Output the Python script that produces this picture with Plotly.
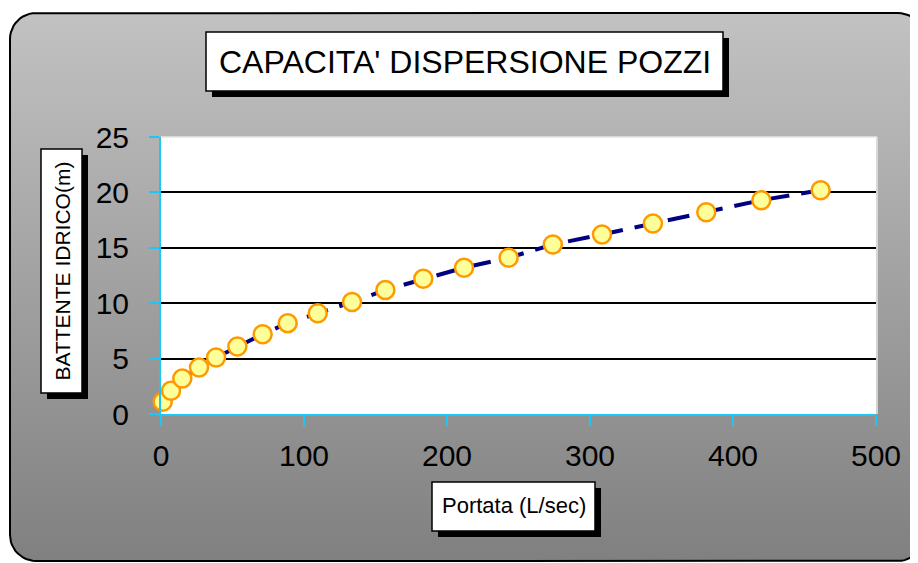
import math
import plotly.graph_objects as go

# ---- data ----
portata = [1.2, 7.0, 14.9, 26.6, 38.5, 53.4, 71.1, 88.6, 109.6, 133.6,
           156.9, 183.4, 211.9, 243.1, 274.0, 308.4, 344.0, 381.3, 419.8, 461.3]
battente = [1.1, 2.1, 3.2, 4.2, 5.1, 6.1, 7.2, 8.2, 9.1, 10.1,
            11.2, 12.2, 13.2, 14.1, 15.3, 16.2, 17.2, 18.2, 19.3, 20.2]
x_ticks = [0, 100, 200, 300, 400, 500]
y_ticks = [0, 5, 10, 15, 20, 25]
title_text = "CAPACITA' DISPERSIONE POZZI"
x_title = "Portata (L/sec)"
y_title = "BATTENTE IDRICO(m)"

# the page body adds an 8px margin; size the figure to the visible area
OFF = 8
W, H = 918 - OFF, 563 - OFF


def fx(s):          # screen x (pixels) -> figure pixel x
    return s - OFF


def fy(s):          # screen y (pixels, from top) -> figure pixel y (from bottom)
    return H - (s - OFF)


def px(s):
    return fx(s) / W


def py(s):
    return fy(s) / H


# rounded background panel
def rounded_rect(x0, y0, x1, y1, r, n=12):
    pts = []
    corners = [(x1 - r, y1 - r, 0), (x0 + r, y1 - r, 90), (x0 + r, y0 + r, 180), (x1 - r, y0 + r, 270)]
    for cx, cy, a0 in corners:
        for i in range(n + 1):
            a = math.radians(a0 + 90 * i / n)
            pts.append((cx + r * math.cos(a), cy + r * math.sin(a)))
    pts.append(pts[0])
    return [p[0] for p in pts], [p[1] for p in pts]


bx, by = rounded_rect(fx(10), fy(561), fx(924), fy(13), 26)

fig = go.Figure()
fig.add_trace(go.Scatter(
    x=bx, y=by, mode="lines", fill="toself",
    line=dict(color="black", width=2),
    fillgradient=dict(type="vertical", colorscale=[[0, "#808080"], [1, "#C2C2C2"]],
                      start=fy(561), stop=fy(13)),
    hoverinfo="skip", showlegend=False, xaxis="x", yaxis="y"))

fig.add_trace(go.Scatter(
    x=portata, y=battente, mode="lines+markers", cliponaxis=False,
    line=dict(color="#000080", width=4, dash="22px,12px"),
    marker=dict(symbol="circle", size=18, color="#FFFF99",
                line=dict(color="#FF9900", width=2.5)),
    showlegend=False, xaxis="x2", yaxis="y2"))

axis_font = dict(family="Liberation Sans, Arial, sans-serif", size=30, color="black")
cyan = "#19C8F5"

fig.update_layout(
    width=W, height=H,
    margin=dict(l=0, r=0, t=0, b=0, pad=0),
    paper_bgcolor="white", plot_bgcolor="white",
    xaxis=dict(domain=[0, 1], range=[0, W], visible=False, fixedrange=True, automargin=False),
    yaxis=dict(domain=[0, 1], range=[0, H], visible=False, fixedrange=True, automargin=False),
    xaxis2=dict(domain=[px(161), px(876)], range=[0, 500], tickvals=x_ticks,
                anchor="y2", showgrid=False, zeroline=False, automargin=False,
                showline=True, linecolor=cyan, linewidth=2,
                ticks="outside", ticklen=10, tickwidth=2, tickcolor=cyan,
                tickfont=axis_font, ticklabelstandoff=4),
    yaxis2=dict(domain=[py(414), py(137)], range=[0, 25], tickvals=y_ticks,
                anchor="x2", showgrid=True, gridcolor="black", gridwidth=2,
                zeroline=False, showline=True, linecolor=cyan, linewidth=2, automargin=False,
                ticks="outside", ticklen=10, tickwidth=2, tickcolor=cyan,
                tickfont=axis_font, ticklabelstandoff=14),
)

shapes = []


def boxed(x0, y0, x1, y1, off):
    shapes.append(dict(type="rect", xref="paper", yref="paper", layer="above",
                       x0=px(x0 + off), x1=px(x1 + off), y0=py(y1 + off), y1=py(y0 + off),
                       fillcolor="black", line=dict(width=0)))
    shapes.append(dict(type="rect", xref="paper", yref="paper", layer="above",
                       x0=px(x0), x1=px(x1), y0=py(y1), y1=py(y0),
                       fillcolor="white", line=dict(color="black", width=1.5)))


boxed(206, 32, 723, 91, 6)
boxed(41, 149, 82, 393, 6)
boxed(432, 482, 595, 531, 6)

# light frame on top and right of plot area
shapes.append(dict(type="line", xref="paper", yref="paper", layer="above",
                   x0=px(161), x1=px(877), y0=py(137), y1=py(137),
                   line=dict(color="#E6E6E6", width=1.5)))
shapes.append(dict(type="line", xref="paper", yref="paper", layer="above",
                   x0=px(877), x1=px(877), y0=py(137), y1=py(414),
                   line=dict(color="#E6E6E6", width=1.5)))
fig.update_layout(shapes=shapes)

ann_font = "Liberation Sans, Arial, sans-serif"
fig.add_annotation(x=px(464.5), y=py(62), xref="paper", yref="paper",
                   xanchor="center", yanchor="middle",
                   text=title_text, showarrow=False,
                   font=dict(family=ann_font, size=32, color="black"))
fig.add_annotation(x=px(61.5), y=py(271), xref="paper", yref="paper",
                   xanchor="center", yanchor="middle",
                   text=y_title, showarrow=False, textangle=-90,
                   font=dict(family=ann_font, size=21, color="black"))
fig.add_annotation(x=px(513.5), y=py(506), xref="paper", yref="paper",
                   xanchor="center", yanchor="middle",
                   text=x_title, showarrow=False,
                   font=dict(family=ann_font, size=22, color="black"))

fig.write_html("out.html")
